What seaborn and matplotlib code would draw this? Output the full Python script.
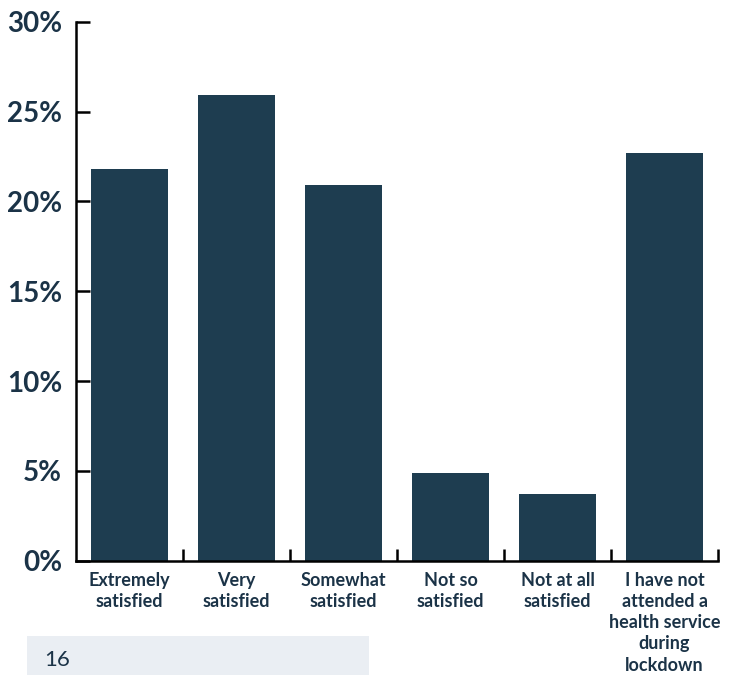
import matplotlib
matplotlib.use("Agg")
import matplotlib.pyplot as plt
from matplotlib.patches import Rectangle
from matplotlib.ticker import FixedLocator, FuncFormatter
import pandas as pd
import seaborn as sns

# Satisfaction with health services during lockdown (% of respondents)
categories = [
    "Extremely\nsatisfied",
    "Very\nsatisfied",
    "Somewhat\nsatisfied",
    "Not so\nsatisfied",
    "Not at all\nsatisfied",
    "I have not\nattended a\nhealth service\nduring\nlockdown",
]
values = [21.8, 25.9, 20.9, 4.9, 3.7, 22.7]
y_ticks = [0, 5, 10, 15, 20, 25, 30]
page_number = "16"

BAR = "#1e3d50"
TEXT = "#1b3347"

sns.set_theme(style="white")
plt.rcParams["font.family"] = ["Lato", "DejaVu Sans"]

df = pd.DataFrame({"category": categories, "value": values})

fig = plt.figure(figsize=(7.29, 6.75), dpi=100)
ax = fig.add_axes([76 / 729, 1 - 560.7 / 675, (718 - 76) / 729, (560.7 - 21.7) / 675])

sns.barplot(data=df, x="category", y="value", color=BAR, width=0.72,
            saturation=1, ax=ax, edgecolor="none")

ax.set_xlim(-0.5, len(categories) - 0.5)
ax.set_ylim(0, 30)
ax.set_xlabel("")
ax.set_ylabel("")

for side in ["top", "right"]:
    ax.spines[side].set_visible(False)
for side in ["left", "bottom"]:
    ax.spines[side].set_color("black")
    ax.spines[side].set_linewidth(1.8)

ax.yaxis.set_major_locator(FixedLocator(y_ticks))
ax.yaxis.set_major_formatter(FuncFormatter(lambda v, _: f"{v:.0f}%"))
ax.tick_params(axis="y", which="major", left=True, direction="in", length=10,
               width=1.8, color="black", pad=10, labelsize=20, labelcolor=TEXT)
for lbl in ax.get_yticklabels():
    lbl.set_fontweight("bold")

# Category labels centred under bars, ticks at the category boundaries
ax.tick_params(axis="x", which="major", bottom=True, length=0, pad=8,
               labelsize=13, labelcolor=TEXT)
for lbl in ax.get_xticklabels():
    lbl.set_fontweight("bold")
    lbl.set_linespacing(1.3)
ax.set_xticks([i + 0.5 for i in range(len(categories))], minor=True)
ax.tick_params(axis="x", which="minor", bottom=True, direction="in",
               length=8.5, width=1.8, color="black")

# Page number footer
fig.patches.append(Rectangle((27 / 729, 0), (369 - 27) / 729, 39 / 675,
                             transform=fig.transFigure, facecolor="#eaeef3",
                             edgecolor="none", zorder=0))
fig.text(44 / 729, 1 - 660 / 675, page_number, fontsize=16, color=TEXT,
         va="center", ha="left")

fig.savefig("out.png", dpi=100)
